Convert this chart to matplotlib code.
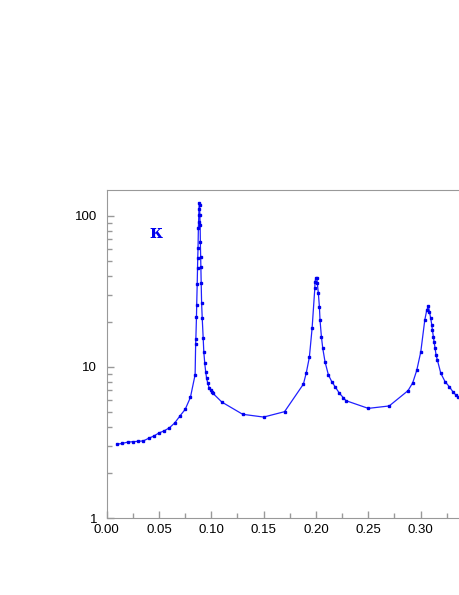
import matplotlib
matplotlib.use("Agg")
import matplotlib.pyplot as plt
from matplotlib.ticker import MultipleLocator, FixedLocator, FixedFormatter, LogLocator, NullFormatter

# kappa vs x, three resonance peaks
x_vals = [0.010, 0.015, 0.020, 0.025, 0.030, 0.035, 0.040, 0.045, 0.050, 0.055,
          0.060, 0.065, 0.070, 0.075, 0.080,
          0.0845, 0.0850, 0.0852, 0.0858, 0.0860, 0.0865, 0.0868, 0.0870, 0.0873,
          0.0876, 0.0878, 0.0880, 0.0882, 0.0885, 0.0888, 0.0890, 0.0893, 0.0895,
          0.0898, 0.0900, 0.0903, 0.0907, 0.0913, 0.0922, 0.0928, 0.0937, 0.0946,
          0.0955, 0.0966, 0.0980, 0.0995, 0.1005, 0.1015, 0.110,
          0.130, 0.150, 0.170,
          0.188, 0.1908, 0.1937, 0.1963, 0.1989, 0.1991, 0.1998, 0.2008, 0.2013,
          0.2023, 0.2033, 0.2039, 0.2052, 0.2065, 0.2087, 0.2119, 0.2151, 0.2183,
          0.2224, 0.2262, 0.2288,
          0.250, 0.270,
          0.288, 0.2925, 0.2964, 0.3002, 0.3040, 0.3059, 0.3075, 0.3084, 0.3097,
          0.3107, 0.3113, 0.3122, 0.3129, 0.3139, 0.3148, 0.3161, 0.3193, 0.3234,
          0.3275, 0.3308, 0.3339, 0.3361]
kappa = [3.08, 3.12, 3.18, 3.20, 3.22, 3.24, 3.37, 3.49, 3.66, 3.78,
         3.96, 4.26, 4.74, 5.24, 6.29,
         8.9, 14.2, 15.3, 21.5, 25.7, 35.6, 45.0, 52.6, 61.5,
         83.0, 91.0, 101.0, 112.0, 122.0, 118.0, 101.0, 87.5, 67.0,
         53.5, 45.9, 36.0, 26.5, 21.0, 15.6, 12.6, 10.6, 9.3,
         8.4, 7.8, 7.25, 7.0, 6.8, 6.7, 5.86,
         4.86, 4.66, 5.06,
         7.7, 9.18, 11.6, 18.0, 33.1, 36.7, 38.6, 38.6, 35.8,
         30.7, 25.0, 20.4, 15.9, 13.3, 10.8, 8.86, 8.0, 7.4,
         6.7, 6.26, 5.98,
         5.32, 5.52,
         6.97, 7.86, 9.53, 12.6, 20.4, 23.8, 25.3, 23.3, 21.0,
         19.0, 17.6, 15.9, 14.7, 13.3, 12.0, 11.1, 9.1, 8.0,
         7.4, 6.87, 6.5, 6.35]

x_ticks = [0.00, 0.05, 0.10, 0.15, 0.20, 0.25, 0.30]
y_ticks = [1, 10, 100]
y_tick_labels = ["1", "10", "100"]

plt.rcParams["font.family"] = ["Liberation Sans", "DejaVu Sans"]

fig = plt.figure(figsize=(4.6, 5.95), dpi=100)
ax = fig.add_axes([0.232, 0.1294, 0.796, 0.5513])

ax.plot(x_vals, kappa, color="#2020ff", lw=0.9, marker="s", ms=2.1,
        mec="#0000ee", mfc="#0000ee")

ax.set_yscale("log")
ax.set_xlim(0, 0.35)
ax.set_ylim(1, 148.6)

ax.xaxis.set_major_locator(FixedLocator(x_ticks))
ax.xaxis.set_minor_locator(MultipleLocator(0.025))
ax.xaxis.set_major_formatter(plt.FuncFormatter(lambda v, p: f"{v:.2f}"))
ax.yaxis.set_major_locator(FixedLocator(y_ticks))
ax.yaxis.set_major_formatter(FixedFormatter(y_tick_labels))
ax.yaxis.set_minor_locator(LogLocator(base=10, subs=range(2, 10)))
ax.yaxis.set_minor_formatter(NullFormatter())

grey = "#999999"
for side in ["left", "bottom", "top"]:
    ax.spines[side].set_color(grey)
ax.spines["right"].set_visible(False)
ax.tick_params(which="both", direction="in", color=grey, labelsize=9.5,
               labelcolor="black", top=False, right=False)
ax.tick_params(which="major", length=5, width=1)
ax.tick_params(which="minor", length=3.5, width=1)
ax.tick_params(axis="y", pad=7)
ax.tick_params(axis="x", pad=4)

ax.text(0.047, 77, "κ", color="#0000ee", fontsize=13, fontweight="bold",
        ha="center", va="center", family=["DejaVu Serif"])

fig.savefig("out.png", dpi=100)
